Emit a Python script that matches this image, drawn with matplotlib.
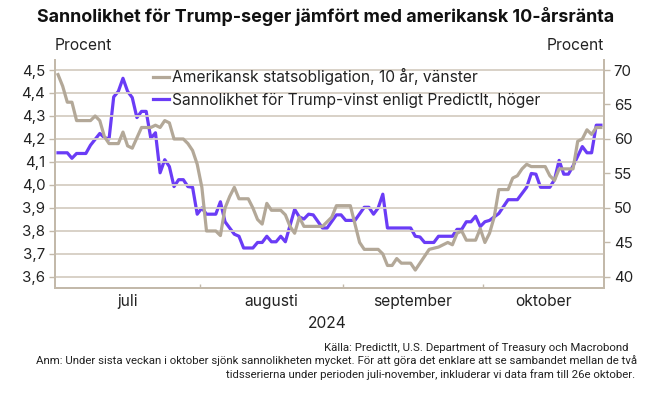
import matplotlib
matplotlib.use('Agg')
import matplotlib.pyplot as plt
import matplotlib.dates as mdates
from matplotlib import font_manager
import numpy as np
import pandas as pd

# data: (days after 1 July 2024, value)
bond_days = [0, 1, 2, 3, 4, 7, 8, 9, 10, 11, 13, 14, 15, 16, 18, 20, 21, 22, 23, 24,
             25, 27, 28, 29, 30, 31, 32, 34, 35, 36, 37, 38, 39, 41, 42, 43, 44, 45,
             46, 48, 49, 50, 51, 52, 53, 55, 57, 58, 59, 60, 63, 64, 65, 66, 69, 70,
             71, 72, 73, 74, 76, 77, 78, 80, 82, 84, 85, 86, 87, 88, 90, 91, 92, 93,
             94, 95, 97, 98, 99, 100, 101, 102, 105, 106, 107, 108, 111, 112, 113,
             114, 115, 116, 117]
bond_yield = [4.48, 4.43, 4.36, 4.36, 4.28, 4.28, 4.30, 4.28, 4.21, 4.18, 4.18, 4.23,
              4.17, 4.16, 4.25, 4.25, 4.26, 4.25, 4.28, 4.27, 4.20, 4.20, 4.18, 4.15,
              4.09, 3.99, 3.80, 3.80, 3.78, 3.90, 3.95, 3.99, 3.94, 3.94, 3.90, 3.85,
              3.83, 3.92, 3.89, 3.89, 3.87, 3.82, 3.79, 3.86, 3.82, 3.82, 3.82, 3.84,
              3.86, 3.91, 3.91, 3.83, 3.75, 3.72, 3.72, 3.70, 3.65, 3.65, 3.68, 3.66,
              3.66, 3.63, 3.66, 3.72, 3.73, 3.75, 3.74, 3.79, 3.80, 3.76, 3.76, 3.81,
              3.75, 3.79, 3.86, 3.98, 3.98, 4.03, 4.04, 4.07, 4.09, 4.08, 4.08, 4.04,
              4.02, 4.07, 4.07, 4.19, 4.20, 4.24, 4.22, 4.25, 4.25]

trump_days = [0, 2, 3, 4, 6, 7, 9, 10, 11, 12, 13, 14, 15, 16, 17, 18, 19, 20, 21, 22,
              23, 24, 25, 26, 27, 28, 29, 30, 31, 32, 34, 35, 36, 38, 39, 40, 42, 43,
              44, 45, 46, 47, 48, 49, 51, 52, 53, 54, 55, 57, 58, 60, 61, 62, 64, 66,
              67, 68, 69, 70, 71, 76, 77, 78, 79, 81, 82, 85, 86, 87, 88, 89, 90, 91,
              92, 93, 95, 97, 99, 101, 102, 103, 104, 106, 107, 108, 109, 110, 111,
              113, 114, 115, 116, 117]
trump_prob = [58.0, 58.0, 57.2, 57.9, 57.9, 59.1, 60.8, 60.2, 60.0, 66.1, 66.9, 68.8,
              66.9, 66.0, 63.1, 64.0, 64.0, 60.1, 60.9, 55.1, 57.0, 56.0, 53.1, 54.1,
              54.1, 53.1, 53.0, 49.1, 50.0, 49.1, 49.1, 50.9, 48.0, 46.2, 45.9, 44.2,
              44.2, 45.0, 45.0, 45.9, 45.1, 45.1, 45.9, 45.1, 49.8, 48.7, 48.4, 49.1,
              49.0, 47.1, 47.1, 49.0, 49.0, 48.2, 48.2, 50.1, 50.1, 49.1, 50.0, 52.0,
              47.1, 47.1, 45.9, 45.8, 45.0, 45.0, 45.9, 45.9, 46.9, 46.9, 48.0, 48.0,
              48.8, 47.3, 48.0, 48.2, 49.2, 51.2, 51.2, 53.0, 55.0, 54.9, 53.0, 53.0,
              54.1, 56.9, 54.9, 54.9, 56.1, 58.9, 58.0, 58.0, 62.0, 62.0]

left_ticks = [3.6, 3.7, 3.8, 3.9, 4.0, 4.1, 4.2, 4.3, 4.4, 4.5]
right_ticks = [40, 45, 50, 55, 60, 65, 70]
month_names = ['juli', 'augusti', 'september', 'oktober']

TAN = '#b3a898'
PURPLE = '#6a3cf6'
GRID = '#d6cec3'
SPINE = '#c3b9aa'
INK = '#222222'


def pick_font(names):
    installed = {f.name for f in font_manager.fontManager.ttflist}
    for name in names:
        if name in installed:
            return name
    return 'DejaVu Sans'


main_font = pick_font(['Inter', 'Open Sans', 'Lato'])
narrow_font = pick_font(['Liberation Sans Narrow', 'Roboto', main_font])
plt.rcParams['font.family'] = [main_font, 'DejaVu Sans']

start = pd.Timestamp('2024-07-01')
bond_dates = start + pd.to_timedelta(bond_days, unit='D')
trump_dates = start + pd.to_timedelta(trump_days, unit='D')

fig = plt.figure(figsize=(6.54, 3.94), dpi=100)
W, H = 654, 394
# axes box in pixels: left 55, right 604, top 60, bottom 288
ax = fig.add_axes([55 / W, 1 - 288 / H, 549 / W, 228 / H])
ax2 = ax.twinx()

lo, hi = 3.552, 4.5435
ax.set_ylim(lo, hi)
ax2.set_ylim(40 + (lo - 3.6) / 0.9 * 30, 40 + (hi - 3.6) / 0.9 * 30)
ax.set_xlim(start - pd.Timedelta(hours=15.6), start + pd.Timedelta(days=117.67))

for v in left_ticks:
    ax.axhline(v, color=GRID, lw=1.3, zorder=0)

l1, = ax.plot(bond_dates, bond_yield, color=TAN, lw=2.3, zorder=3,
              label='Amerikansk statsobligation, 10 år, vänster')
l2, = ax2.plot(trump_dates, trump_prob, color=PURPLE, lw=2.3, zorder=2,
               label='Sannolikhet för Trump-vinst enligt PredictIt, höger')
ax.set_zorder(ax2.get_zorder() + 1)
ax.patch.set_visible(False)

ax.set_yticks(left_ticks)
ax.set_yticklabels([('%.1f' % v).replace('.', ',') for v in left_ticks])
ax2.set_yticks(right_ticks)
ax2.set_yticklabels([str(v) for v in right_ticks])

# month boundaries as ticks, names centred in the visible part of each month
xmin, xmax = ax.get_xlim()
bounds = [start + pd.DateOffset(months=i) - pd.Timedelta(hours=12) for i in range(1, 4)]
edges = [xmin] + [mdates.date2num(b) for b in bounds] + [xmax]
ax.set_xticks([mdates.date2num(b) for b in bounds])
ax.set_xticklabels([])
ax.set_xticks([(a + b) / 2 for a, b in zip(edges[:-1], edges[1:])], minor=True)
ax.set_xticklabels(month_names, minor=True)
ax.tick_params(axis='x', which='major', direction='in', length=3, color=SPINE, width=1)
ax.tick_params(axis='x', which='minor', length=0, pad=4, labelsize=11.2, labelcolor=INK)
ax.tick_params(axis='y', direction='out', length=4, color=SPINE, width=1, pad=3,
               labelsize=10.8, labelcolor=INK)
ax2.tick_params(axis='y', direction='out', length=4, color=SPINE, width=1, pad=3,
                labelsize=10.8, labelcolor=INK)

for a in (ax, ax2):
    a.spines['top'].set_visible(False)
    for side in ('left', 'right', 'bottom'):
        a.spines[side].set_color(SPINE)
        a.spines[side].set_linewidth(1.3)

leg = ax.legend(handles=[l1, l2], loc='upper left', bbox_to_anchor=(153 / W, 1 - 68 / H),
                bbox_transform=fig.transFigure, frameon=False, fontsize=11.2,
                handlelength=1.0, handletextpad=0.2, labelspacing=0.5,
                borderaxespad=0, borderpad=0)
for t in leg.get_texts():
    t.set_color(INK)

fig.text(326 / W, 1 - 17 / H, 'Sannolikhet för Trump-seger jämfört med amerikansk 10-årsränta',
         ha='center', va='center', fontsize=12.9, fontweight='bold', color='#111111')
fig.text(55 / W, 1 - 46 / H, 'Procent', ha='left', va='center', fontsize=11.2, color=INK)
fig.text(604 / W, 1 - 46 / H, 'Procent', ha='right', va='center', fontsize=11.2, color=INK)
fig.text(327 / W, 1 - 323 / H, '2024', ha='center', va='center', fontsize=11.2, color=INK)

notes = [
    (629, 348, 'Källa: PredictIt, U.S. Department of Treasury och Macrobond'),
    (637, 361, 'Anm: Under sista veckan i oktober sjönk sannolikheten mycket. För att göra det '
               'enklare att se sambandet mellan de två'),
    (635, 375, 'tidsserierna under perioden juli-november, inkluderar vi data fram till 26e oktober.'),
]
for x, y, s in notes:
    fig.text(x / W, 1 - y / H, s, ha='right', va='center', fontsize=8.2,
             family=narrow_font, color=INK)

fig.savefig('out.png', dpi=100)
plt.close(fig)
